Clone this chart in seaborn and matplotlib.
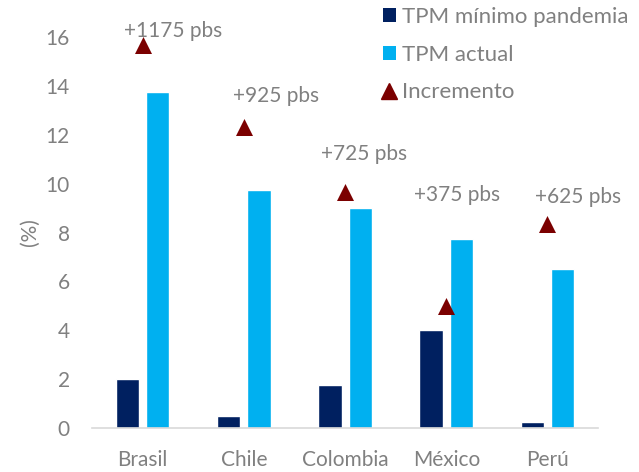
import matplotlib
matplotlib.use("Agg")
import matplotlib.pyplot as plt
import seaborn as sns
import pandas as pd
from matplotlib.patches import Patch
from matplotlib.lines import Line2D

# Policy rates (%) by country
paises = ["Brasil", "Chile", "Colombia", "México", "Perú"]
tpm_minimo = [2.0, 0.5, 1.75, 4.0, 0.25]
tpm_actual = [13.75, 9.75, 9.0, 7.75, 6.5]
incremento = [11.75, 9.25, 7.25, 3.75, 6.25]
etiquetas = ["+1175 pbs", "+925 pbs", "+725 pbs", "+375 pbs", "+625 pbs"]

serie_min = "TPM mínimo pandemia"
serie_act = "TPM actual"
serie_inc = "Incremento"

c_dark = "#002060"
c_light = "#00B0F0"
c_tri = "#7B0000"
c_text = "#808080"

sns.set_theme(style="white")
plt.rcParams["font.family"] = ["Lato", "DejaVu Sans"]

df = pd.DataFrame({
    "pais": paises * 2,
    "serie": [serie_min] * len(paises) + [serie_act] * len(paises),
    "valor": tpm_minimo + tpm_actual,
})
df_inc = pd.DataFrame({"pais": paises, "inc": incremento})

fig = plt.figure(figsize=(6.39, 4.72), dpi=100)
ax = fig.add_axes([0.144, 0.0932, 0.792, 0.8284])

sns.barplot(data=df, x="pais", y="valor", hue="serie", order=paises,
            hue_order=[serie_min, serie_act],
            palette=[c_dark, c_light], width=0.6, gap=0.233,
            saturation=1, ax=ax, legend=False)

ax.set_ylim(0, 16)
ax.set_xlim(-0.5, len(paises) - 0.5)
ax.set_yticks(range(0, 17, 2))
ax.set_xlabel("")
ax.set_ylabel("(%)", color=c_text, fontsize=15, labelpad=4)
ax.tick_params(axis="y", length=0, pad=16, labelsize=15, labelcolor=c_text)
ax.tick_params(axis="x", length=0, pad=16, labelsize=15, labelcolor=c_text)
for s in ["top", "right", "left"]:
    ax.spines[s].set_visible(False)
ax.spines["bottom"].set_color("#D9D9D9")
ax.spines["bottom"].set_linewidth(1.2)

# Increment on a hidden secondary scale
ax2 = ax.twinx()
sns.scatterplot(data=df_inc, x="pais", y="inc", marker="^", s=150,
                color=c_tri, edgecolor=c_tri, linewidth=0, ax=ax2, legend=False)
ax2.set_ylim(0, 12)
ax2.set_yticks([])
ax2.set_ylabel("")
for s in ax2.spines.values():
    s.set_visible(False)

# Label offsets (in points) from each triangle
offsets = [(22, 10), (23, 22), (14, 27), (8, 80), (22, 20)]
for i, (lab, v) in enumerate(zip(etiquetas, incremento)):
    ax2.annotate(lab, xy=(i, v), xytext=offsets[i], textcoords="offset points",
                 ha="center", va="center", fontsize=15, color=c_text,
                 annotation_clip=False)

handles = [
    Patch(facecolor=c_dark, edgecolor="none", label=serie_min),
    Patch(facecolor=c_light, edgecolor="none", label=serie_act),
    Line2D([0], [0], marker="^", color="none", markerfacecolor=c_tri,
           markeredgecolor=c_tri, markersize=12, label=serie_inc),
]
leg = fig.legend(handles=handles, loc="upper right", bbox_to_anchor=(0.99, 0.995),
                 frameon=False, fontsize=16, handlelength=0.6, handleheight=0.6,
                 handletextpad=0.25, labelspacing=0.8, borderaxespad=0.0,
                 borderpad=0.2)
for t in leg.get_texts():
    t.set_color(c_text)

fig.savefig("out.png", dpi=100)
